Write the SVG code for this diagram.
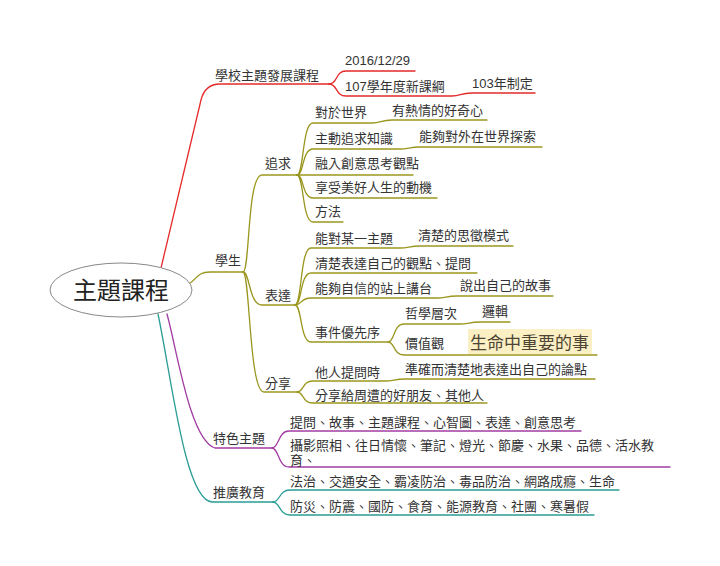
<svg xmlns="http://www.w3.org/2000/svg" width="720" height="566" viewBox="0 0 720 566">
<style>
text{font-family:"Liberation Sans","Noto Sans CJK TC","Noto Sans CJK SC",sans-serif;font-size:13px;fill:#333}
.c{fill:none;stroke-width:1.3;stroke-linecap:round}
.r{stroke:#e52a2a}.o{stroke:#9a961e}.p{stroke:#a23ca2}.t{stroke:#2a9d96}
</style>
<rect width="720" height="566" fill="#fff"/>
<g id="connectors">
<path class="c r" d="M161,268 L201,100 Q205,84 220,84 L329,84"/>
<path class="c r" d="M329,84 C338,84 335,71 346,71 L415,71"/>
<path class="c r" d="M329,84 C338,84 335,96 346,96 L452,96 C461,96 460,93 472,93 L535,93"/>
<path class="c o" d="M190,283 C197,279 197,272 210,272 L243,272"/>
<path class="c o" d="M243,272 C250,272 247,175 262,175 L297,175"/>
<path class="c o" d="M243,272 C250,272 249,305 262,305 L295,305"/>
<path class="c o" d="M243,272 C250,272 249,392 264,392 L297,392"/>
<path class="c o" d="M297,175 C304,175 302,123 313,123 L372,123 C381,123 381,120 392,120 L487,120"/>
<path class="c o" d="M297,175 C304,175 302,149 313,149 L400,149 C409,149 409,147 420,147 L542,147"/>
<path class="c o" d="M297,175 L413,175"/>
<path class="c o" d="M297,175 C304,175 302,198 313,198 L437,198"/>
<path class="c o" d="M297,175 C304,175 302,222 313,222 L343,222"/>
<path class="c o" d="M295,305 C302,305 300,248 311,248 L400,248 C409,248 409,246 420,246 L513,246"/>
<path class="c o" d="M295,305 C302,305 300,273 311,273 L477,273"/>
<path class="c o" d="M295,305 C302,305 300,298 311,298 L437,298 C446,298 446,296 457,296 L553,296"/>
<path class="c o" d="M295,305 C302,305 300,342 311,342 L388,342"/>
<path class="c o" d="M388,342 C395,342 393,324 404,324 L460,324 C469,324 469,322 480,322 L510,322"/>
<path class="c o" d="M388,342 C395,342 393,355 404,355 L597,355"/>
<path class="c o" d="M297,392 C304,392 302,381 313,381 L385,381 C394,381 394,379 405,379 L595,379"/>
<path class="c o" d="M297,392 C304,392 302,403 313,403 L487,403"/>
<path class="c p" d="M167,314 C177,350 190,440 215,448 L272,448"/>
<path class="c p" d="M272,448 C279,448 278,431 289,431 L581,431"/>
<path class="c p" d="M272,448 C279,448 278,467 289,467 L670,467"/>
<path class="c t" d="M158,314 C172,380 185,500 212,502 L273,502"/>
<path class="c t" d="M273,502 C280,502 279,490 290,490 L619,490"/>
<path class="c t" d="M273,502 C280,502 279,515 290,515 L594,515"/>
</g>
<g id="root">
<ellipse cx="121" cy="290" rx="71" ry="27" fill="#fff" stroke="#888" stroke-width="1"/>
<text x="121" y="299" text-anchor="middle" style="font-size:24px;fill:#222">主題課程</text>
</g>
<g id="n-school"><text x="215" y="80">學校主題發展課程</text></g>
<g id="n-date"><text x="345" y="65">2016/12/29</text></g>
<g id="n-107"><text x="345" y="91">107學年度新課綱</text></g>
<g id="n-103"><text x="472" y="88">103年制定</text></g>
<g id="n-student"><text x="215" y="265">學生</text></g>
<g id="n-pursue"><text x="265" y="168">追求</text></g>
<g id="n-world"><text x="315" y="117">對於世界</text></g>
<g id="n-curious"><text x="392" y="115">有熱情的好奇心</text></g>
<g id="n-active"><text x="315" y="143">主動追求知識</text></g>
<g id="n-explore"><text x="419" y="141">能夠對外在世界探索</text></g>
<g id="n-creative"><text x="315" y="168">融入創意思考觀點</text></g>
<g id="n-enjoy"><text x="315" y="192">享受美好人生的動機</text></g>
<g id="n-method"><text x="315" y="216">方法</text></g>
<g id="n-express"><text x="265" y="300">表達</text></g>
<g id="n-topic"><text x="315" y="243">能對某一主題</text></g>
<g id="n-mode"><text x="418" y="240">清楚的思徵模式</text></g>
<g id="n-clear"><text x="315" y="268">清楚表達自己的觀點、提問</text></g>
<g id="n-stage"><text x="315" y="293">能夠自信的站上講台</text></g>
<g id="n-story"><text x="460" y="290">說出自己的故事</text></g>
<g id="n-priority"><text x="315" y="337">事件優先序</text></g>
<g id="n-philo"><text x="405" y="318">哲學層次</text></g>
<g id="n-logic"><text x="482" y="316">邏輯</text></g>
<g id="n-values"><text x="405" y="348">價值觀</text></g>
<g id="n-life">
<rect x="468" y="329" width="124" height="25" fill="#fbefc4"/>
<text x="470" y="349" style="font-size:17px;fill:#4d4433">生命中重要的事</text>
</g>
<g id="n-share"><text x="265" y="388">分享</text></g>
<g id="n-ask"><text x="315" y="377">他人提問時</text></g>
<g id="n-precise"><text x="405" y="374">準確而清楚地表達出自己的論點</text></g>
<g id="n-friends"><text x="315" y="400">分享給周遭的好朋友、其他人</text></g>
<g id="n-feature"><text x="213" y="443">特色主題</text></g>
<g id="n-f1"><text x="290" y="427">提問、故事、主題課程、心智圖、表達、創意思考</text></g>
<g id="n-f2"><text x="290" y="450">攝影照相、往日情懷、筆記、燈光、節慶、水果、品德、活水教</text><text x="290" y="465">育、</text></g>
<g id="n-promote"><text x="213" y="497">推廣教育</text></g>
<g id="n-p1"><text x="290" y="486">法治、交通安全、霸凌防治、毒品防治、網路成癮、生命</text></g>
<g id="n-p2"><text x="290" y="511">防災、防震、國防、食育、能源教育、社團、寒暑假</text></g>
</svg>
